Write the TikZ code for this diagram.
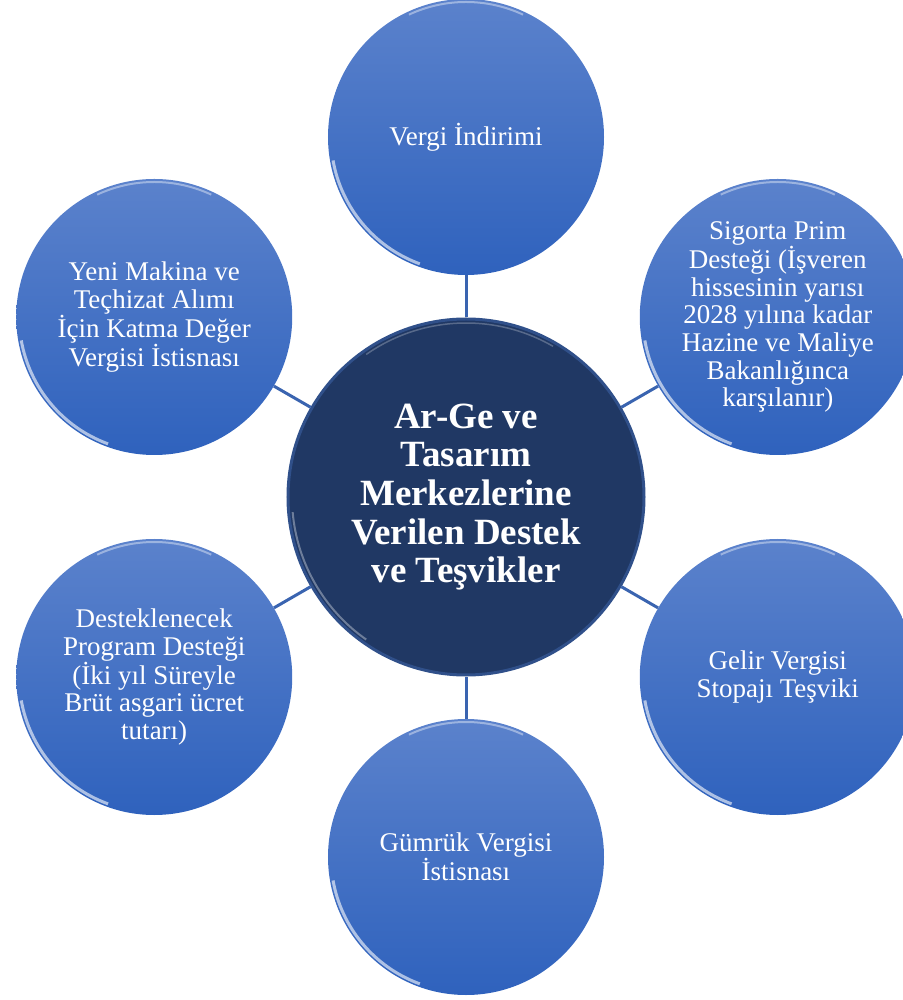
\documentclass[tikz,border=0pt]{standalone}
\usepackage{fontspec}
\setmainfont{Liberation Serif}
\usepackage{tikz}

\definecolor{topblue}{HTML}{5B82CC}
\definecolor{botblue}{HTML}{2F62BD}
\definecolor{navy}{HTML}{203864}
\definecolor{rim}{HTML}{30508A}
\definecolor{linkblue}{HTML}{3A64B0}

\tikzset{
	outer/.style={circle, minimum size=276pt, inner sep=0pt, top color=topblue, bottom color=botblue,
		text=white, align=center, font=\fontsize{27}{27.6}\selectfont},
	hub/.style={circle, minimum size=356pt, inner sep=0pt, fill=navy, draw=rim, line width=3pt,
		text=white, align=center, font=\fontsize{37}{38.7}\selectfont\bfseries},
	link/.style={draw=linkblue, line width=3pt},
	shine/.style={white, line width=3pt, opacity=0.6}
}

\begin{document}
\begin{tikzpicture}[x=1pt,y=1pt]
				\useasboundingbox (-466,-503) rectangle (436,497);
				
				% center
				\node[hub] (merkez) at (0,0) {Ar-Ge ve\\Tasarım\\Merkezlerine\\Verilen Destek\\ve Teşvikler};
				\draw[white, line width=2pt, opacity=0.35] ([shift={(185:174)}]merkez.center) arc[start angle=185, end angle=235, radius=174];
				\draw[white, line width=1.5pt, opacity=0.25] ([shift={(60:174)}]merkez.center) arc[start angle=60, end angle=125, radius=174];
				
				% outer ring
				\foreach \n/\a/\t in
				{vergi/90/{Vergi İndirimi},
				 sigorta/30/{Sigorta Prim\\Desteği (İşveren\\hissesinin yarısı\\2028 yılına kadar\\Hazine ve Maliye\\Bakanlığınca\\karşılanır)},
				 gelir/-30/{Gelir Vergisi\\Stopajı Teşviki},
				 gumruk/-90/{Gümrük Vergisi\\İstisnası},
				 program/210/{Desteklenecek\\Program Desteği\\(İki yıl Süreyle\\Brüt asgari ücret\\tutarı)},
				 kdv/150/{Yeni Makina ve\\Teçhizat Alımı\\İçin Katma Değer\\Vergisi İstisnası}}{
					\node[outer] (\n) at (\a:360) {\t};
					\draw[shine] ([shift={(190:135)}]\n.center) arc[start angle=190, end angle=250, radius=135];
					\draw[shine, opacity=0.4, line width=2pt] ([shift={(65:135)}]\n.center) arc[start angle=65, end angle=115, radius=135];
				}
				
				\foreach \x in {vergi,sigorta,gelir,gumruk,program,kdv}{
					\draw[link] (merkez)--(\x);
				}
			\end{tikzpicture}
\end{document}
